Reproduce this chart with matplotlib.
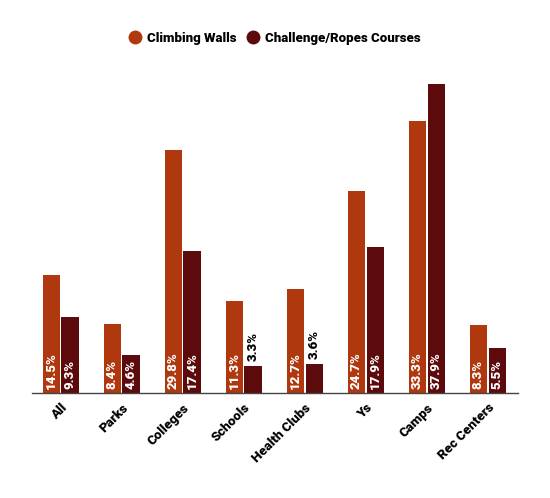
import numpy as np
import matplotlib.pyplot as plt

categories = ['All', 'Parks', 'Colleges', 'Schools', 'Health Clubs', 'Ys', 'Camps', 'Rec Centers']
climbing_walls = [14.5, 8.4, 29.8, 11.3, 12.7, 24.7, 33.3, 8.3]
ropes_courses = [9.3, 4.6, 17.4, 3.3, 3.6, 17.9, 37.9, 5.5]

plt.rcParams['font.family'] = ['Roboto', 'DejaVu Sans']

c1 = '#B0380F'
c2 = '#5C0A0C'


def main():
    fig = plt.figure(figsize=(5.5, 4.98), dpi=100)
    ax = fig.add_axes([0.058, 0.211, 0.884, 0.67])

    x = np.arange(len(categories))
    w = 0.28
    off = 0.155
    b1 = ax.bar(x - off, climbing_walls, w, color=c1, label='Climbing Walls')
    b2 = ax.bar(x + off, ropes_courses, w, color=c2, label='Challenge/Ropes Courses')

    for bars, vals in [(b1, climbing_walls), (b2, ropes_courses)]:
        for b, v in zip(bars, vals):
            cx = b.get_x() + b.get_width() / 2
            if v < 4:
                ax.text(cx, v + 0.6, f'{v}%', rotation=90, ha='center', va='bottom',
                        color='black', fontsize=9.5, fontweight='heavy')
            else:
                ax.text(cx, 0.5, f'{v}%', rotation=90, ha='center', va='bottom',
                        color='white', fontsize=9.5, fontweight='heavy')

    ax.set_xlim(-0.47, 7.5)
    ax.set_ylim(0, 40.9)
    ax.set_xticks(x)
    ax.set_xticklabels(categories, rotation=45, ha='right', rotation_mode='anchor',
                       fontsize=9.5, fontweight='heavy')
    ax.tick_params(axis='x', length=0, pad=6)
    ax.set_yticks([])
    for s in ['left', 'right', 'top']:
        ax.spines[s].set_visible(False)
    ax.spines['bottom'].set_color('#444444')
    ax.spines['bottom'].set_linewidth(1)

    h1 = plt.Line2D([], [], marker='o', color=c1, linestyle='', markersize=9)
    h2 = plt.Line2D([], [], marker='o', color=c2, linestyle='', markersize=9)
    fig.legend([h1, h2], ['Climbing Walls', 'Challenge/Ropes Courses'],
               loc='center', bbox_to_anchor=(0.497, 0.923), ncol=2, frameon=False,
               prop={'weight': 'heavy', 'size': 9.5}, handletextpad=0.2,
               columnspacing=0.6, handlelength=1.4)

    fig.savefig('out.png', dpi=100)


if __name__ == '__main__':
    main()
